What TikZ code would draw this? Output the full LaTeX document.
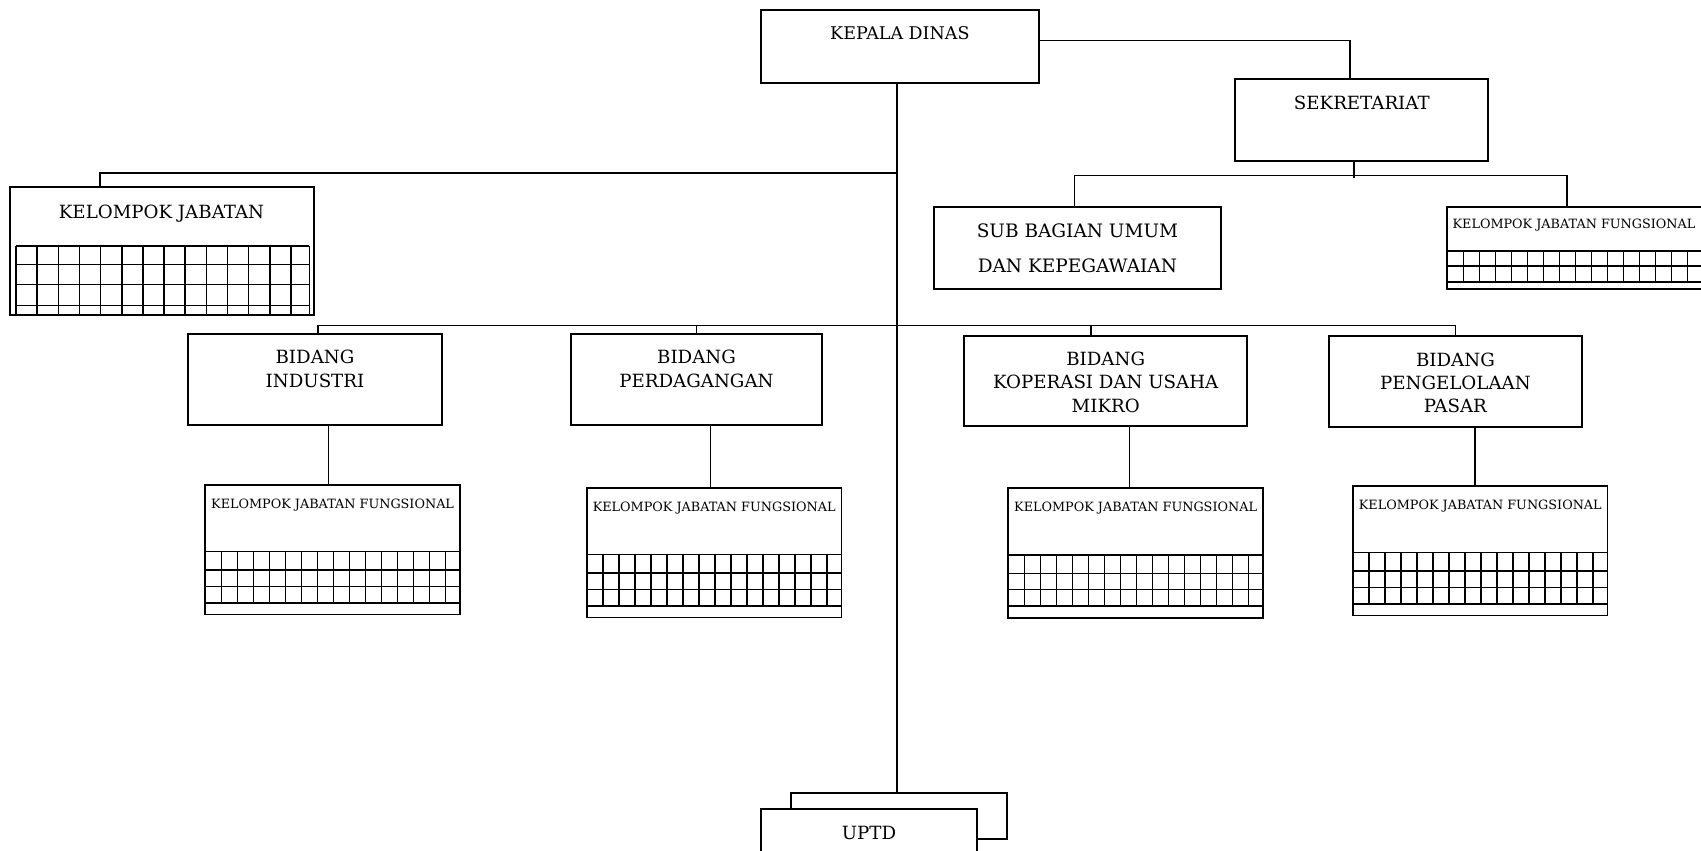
\documentclass[tikz,border=0pt]{standalone}
\usepackage{fontspec}
\setmainfont{DejaVu Serif}

\begin{document}
\begin{tikzpicture}[x=1pt, y=-1pt,
	box/.style={draw, line width=1.8pt, fill=white, inner sep=0pt},
	wire/.style={line width=1.6pt},
	thinwire/.style={line width=1.2pt},
	cell/.style={line width=1.2pt},
	lbl/.style={inner sep=0pt, font=\fontsize{18.2}{23.3}\selectfont, align=center},
	small/.style={inner sep=0pt, font=\fontsize{12.8}{14}\selectfont}]
			\useasboundingbox (0,0) rectangle (1701,851);
			\clip (0,0) rectangle (1701,851);

			% Draw the top boxes
			\node[box, minimum width=278.3pt, minimum height=73.3pt] (kadis) at (899.9,46.7) {};
			\node[lbl, anchor=base, font=\fontsize{17.5}{23.3}\selectfont] (kadisT) at (899.9,40) {KEPALA DINAS};

			\node[box, minimum width=253pt, minimum height=81.7pt] (sekr) at (1361.8,119.9) {};
			\node[lbl, anchor=base] (sekrT) at (1361.8,110) {SEKRETARIAT};

			\node[box, minimum width=286.7pt, minimum height=81.7pt] (subbag) at (1077.4,248.2) {};
			\node[lbl, anchor=north, font=\fontsize{18.5}{35}\selectfont] (subbagT) at (1077.4,236.7-13.5) {SUB BAGIAN UMUM\\DAN KEPEGAWAIAN};

			\node[box, minimum width=255pt, minimum height=82.3pt] (kjf0) at (1574.8,247.9) {};
			\node[small, anchor=base] (kjf0T) at (1574,228.3) {KELOMPOK JABATAN FUNGSIONAL};

			\node[box, minimum width=304.3pt, minimum height=127.7pt] (kj) at (162.2,251.2) {};
			\node[lbl, anchor=base] (kjT) at (161.5,218.3) {KELOMPOK JABATAN};

			% Draw the bidang boxes
			\node[box, minimum width=253.4pt, minimum height=90.7pt] (bInd) at (315,379.7) {};
			\node[lbl, anchor=north] (bIndT) at (315,363.3-13.3) {BIDANG\\INDUSTRI};

			\node[box, minimum width=251.7pt, minimum height=90.7pt] (bDag) at (696.5,379.7) {};
			\node[lbl, anchor=north] (bDagT) at (696.5,363.3-13.3) {BIDANG\\PERDAGANGAN};

			\node[box, minimum width=283.3pt, minimum height=90pt] (bKop) at (1105.7,380.7) {};
			\node[lbl, anchor=north] (bKopT) at (1105.7,365-13.3) {BIDANG\\KOPERASI DAN USAHA\\MIKRO};

			\node[box, minimum width=253.3pt, minimum height=91pt] (bPas) at (1455.4,381.2) {};
			\node[lbl, anchor=north] (bPasT) at (1455.4,365.7-13.3) {BIDANG\\PENGELOLAAN\\PASAR};

			% Draw the jabatan fungsional boxes
			\node[box, minimum width=254.5pt, minimum height=129.5pt] (kjf1) at (332.6,549.8) {};
			\node[box, minimum width=254.5pt, minimum height=129.5pt] (kjf2) at (714.2,552.8) {};
			\node[box, minimum width=254.5pt, minimum height=129.5pt] (kjf3) at (1135.6,553.1) {};
			\node[box, minimum width=254.5pt, minimum height=129.5pt] (kjf4) at (1480.3,550.8) {};
			\node[small, anchor=base] (kjf1T) at (332.6,485+23.5) {KELOMPOK JABATAN FUNGSIONAL};
			\node[small, anchor=base] (kjf2T) at (714.2,488+23.5) {KELOMPOK JABATAN FUNGSIONAL};
			\node[small, anchor=base] (kjf3T) at (1135.6,488.3+23.5) {KELOMPOK JABATAN FUNGSIONAL};
			\node[small, anchor=base] (kjf4T) at (1480.3,486+23.5) {KELOMPOK JABATAN FUNGSIONAL};

			% Draw the grids inside the boxes
			\foreach \l/\t in {205.3/485, 586.9/488, 1008.3/488.3, 1353/486} {
				\draw[line width=1.8pt] (\l,\t+66.5) -- (\l+254.5,\t+66.5);
				\draw[cell] (\l,\t+85) -- (\l+254.5,\t+85);
				\draw[cell] (\l,\t+101.5) -- (\l+254.5,\t+101.5);
				\draw[line width=2.2pt] (\l,\t+118) -- (\l+254.5,\t+118);
				\foreach \k in {1,...,15}
					\draw[cell] (\l+16*\k,\t+66.5) -- (\l+16*\k,\t+118);
			}

			\draw[line width=1.8pt] (1447.3,250.7) -- (1701,250.7);
			\draw[cell] (1447.3,266) -- (1701,266);
			\draw[line width=2.2pt] (1447.3,281.7) -- (1701,281.7);
			\foreach \k in {1,...,16}
				\draw[cell] (1447.3+16*\k,250.7) -- (1447.3+16*\k,281.7);

			\draw[line width=1.5pt] (16,246) -- (309.3,246);
			\draw[line width=1.5pt] (16,264.3) -- (309.3,264.3);
			\draw[line width=1.5pt] (16,284.3) -- (309.3,284.3);
			\draw[line width=1.5pt] (16,305.7) -- (309.3,305.7);
			\draw[line width=1.5pt] (309.3,246) -- (309.3,315);
			\foreach \k in {0,...,13}
				\draw[line width=1.5pt] (16+21.15*\k,246) -- (16+21.15*\k,315);

			% Draw the UPTD boxes
			\node[box, minimum width=216.3pt, minimum height=46pt] (uptdB) at (899.2,816.3) {};
			\node[box, minimum width=216.6pt, minimum height=60pt] (uptd) at (869,839) {};
			\node[lbl, anchor=base] (uptdT) at (869,839.3) {UPTD};

			% Draw the connectors
			\draw[wire] ([yshift=6pt]kadis.east) -| ([xshift=-11.8pt]sekr.north);
			\draw[thinwire] ([xshift=-7.8pt]sekr.south) -- ++(0,16);
			\draw[thinwire] ([xshift=-3.1pt]subbag.north) -- ++(0,-30.6) -| ([xshift=-7.8pt]kjf0.north);
			\draw[wire] ([xshift=-3.2pt]kadis.south) -- ([xshift=-2.5pt]uptdB.north);
			\draw[wire] ([xshift=-3.2pt]kadis.south) -- ++(0,89) -| ([xshift=-62.2pt]kj.north);
			\draw[wire] ([xshift=2.7pt]bInd.north) -- ++(0,-8.1) -| (bPas.north);
			\draw[wire] (bDag.north) -- ++(0,-8.1);
			\draw[wire] ([xshift=-15pt]bKop.north) -- ++(0,-9.5);

			\draw[thinwire] ([xshift=13.7pt]bInd.south) -- ([xshift=13.7pt]bInd.south |- kjf1.north);
			\draw[thinwire] ([xshift=14.1pt]bDag.south) -- ([xshift=14.1pt]bDag.south |- kjf2.north);
			\draw[thinwire] ([xshift=23.6pt]bKop.south) -- ([xshift=23.6pt]bKop.south |- kjf3.north);
			\draw[thinwire] ([xshift=19.6pt]bPas.south) -- ([xshift=19.6pt]bPas.south |- kjf4.north);

		\end{tikzpicture}
\end{document}
